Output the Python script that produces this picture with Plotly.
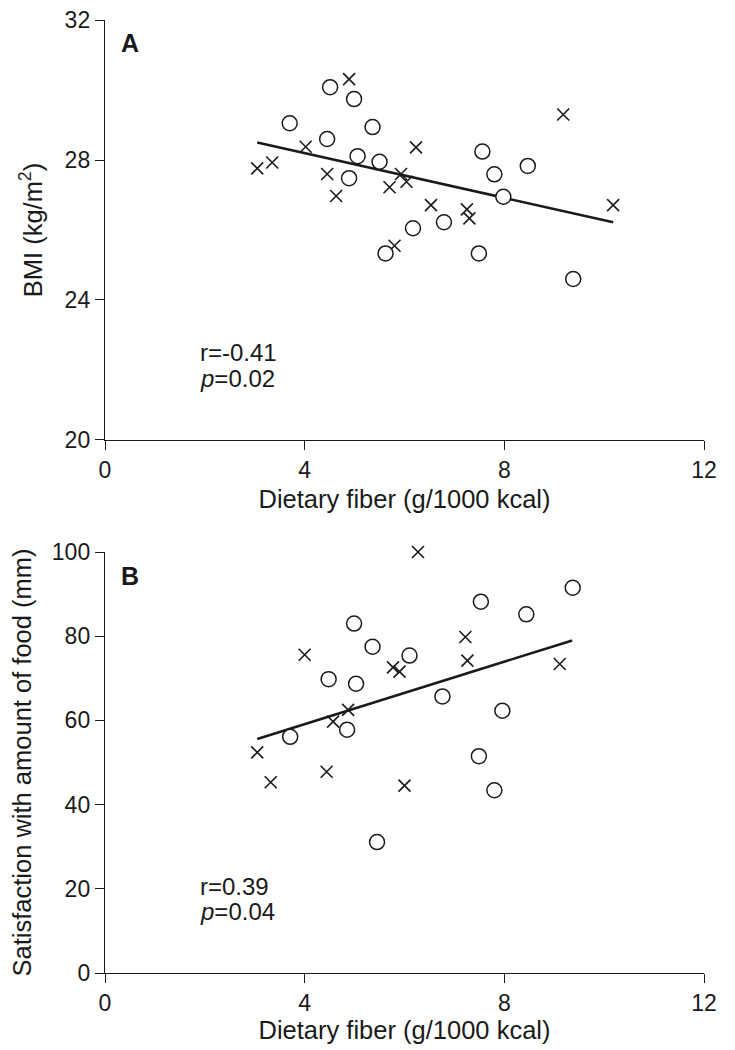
import plotly.graph_objects as go

# ---------------- Data ----------------
# Panel A: BMI vs dietary fiber
a_cross_x = [3.05, 3.35, 4.02, 4.45, 4.63, 4.89, 5.70, 5.93, 6.04, 6.23, 5.80, 6.53, 7.25, 7.30, 9.18, 10.18]
a_cross_y = [27.76, 27.93, 28.38, 27.60, 26.97, 30.31, 27.22, 27.60, 27.38, 28.36, 25.55, 26.71, 26.59, 26.33, 29.30, 26.71]
a_circle_x = [4.51, 4.99, 3.70, 5.36, 4.45, 5.06, 5.50, 4.89, 7.56, 7.80, 8.47, 7.98, 6.79, 6.17, 5.62, 7.49, 9.38]
a_circle_y = [30.08, 29.74, 29.05, 28.94, 28.60, 28.11, 27.95, 27.48, 28.24, 27.59, 27.83, 26.95, 26.22, 26.05, 25.33, 25.33, 24.60]
a_fit_x = [3.05, 10.18]
a_fit_y = [28.50, 26.22]

# Panel B: Satisfaction with amount of food vs dietary fiber
b_cross_x = [6.27, 7.22, 7.26, 9.11, 4.00, 5.77, 5.90, 4.87, 4.57, 3.05, 3.32, 4.44, 6.00]
b_cross_y = [100.0, 79.8, 74.2, 73.4, 75.6, 72.6, 71.6, 62.5, 59.7, 52.4, 45.3, 47.8, 44.5]
b_circle_x = [9.37, 7.53, 8.44, 4.99, 5.36, 6.10, 4.48, 5.03, 6.76, 7.96, 3.71, 4.85, 7.49, 7.80, 5.45]
b_circle_y = [91.5, 88.2, 85.2, 83.0, 77.5, 75.4, 69.8, 68.7, 65.7, 62.3, 56.1, 57.8, 51.5, 43.4, 31.1]
b_fit_x = [3.05, 9.36]
b_fit_y = [55.6, 79.0]

x_ticks = [0, 4, 8, 12]
a_y_ticks = [20, 24, 28, 32]
b_y_ticks = [0, 20, 40, 60, 80, 100]

x_title = "Dietary fiber (g/1000 kcal)"
a_y_title = "BMI (kg/m<sup>2</sup>)"
b_y_title = "Satisfaction with amount of food (mm)"

# ---------------- Style ----------------
FONT = "Liberation Sans, Arial, Helvetica, sans-serif"
INK = "#1a1a1a"
TICK_SIZE = 23
NOTE_SIZE = 24
TITLE_SIZE = 25.5

fig = go.Figure()

def add_panel(xref, yref, fx, fy, cx, cy, ox, oy):
    fig.add_trace(go.Scatter(x=fx, y=fy, mode="lines", xaxis=xref, yaxis=yref,
                             line=dict(color=INK, width=2.6), showlegend=False, hoverinfo="skip"))
    fig.add_trace(go.Scatter(x=cx, y=cy, mode="markers", xaxis=xref, yaxis=yref, cliponaxis=False,
                             marker=dict(symbol="x-thin-open", size=12, color=INK,
                                         line=dict(color=INK, width=1.6)),
                             showlegend=False))
    fig.add_trace(go.Scatter(x=ox, y=oy, mode="markers", xaxis=xref, yaxis=yref, cliponaxis=False,
                             marker=dict(symbol="circle", size=15, color="white",
                                         line=dict(color=INK, width=1.5)),
                             showlegend=False))

add_panel("x", "y", a_fit_x, a_fit_y, a_cross_x, a_cross_y, a_circle_x, a_circle_y)
add_panel("x2", "y2", b_fit_x, b_fit_y, b_cross_x, b_cross_y, b_circle_x, b_circle_y)

axis_common = dict(showline=True, linecolor=INK, linewidth=1.4, ticks="outside",
                   ticklen=9, tickwidth=1.4, tickcolor=INK, showgrid=False, zeroline=False,
                   automargin=False, ticklabeloverflow="allow",
                   tickfont=dict(family=FONT, size=TICK_SIZE, color=INK))

title_font = dict(family=FONT, size=TITLE_SIZE, color=INK)

fig.update_layout(
    width=735, height=1050,
    margin=dict(l=97, r=39, t=12, b=85),
    paper_bgcolor="white", plot_bgcolor="white",
    font=dict(family=FONT, color=INK),
    xaxis=dict(domain=[0, 1], anchor="y", range=[0, 12], tickvals=x_ticks,
               title=dict(text=x_title, font=title_font, standoff=8),
               **axis_common),
    yaxis=dict(domain=[0.5593, 1.0], anchor="x", range=[20, 32], tickvals=a_y_ticks,
               title=dict(text=a_y_title, font=title_font, standoff=14),
               **axis_common),
    xaxis2=dict(domain=[0, 1], anchor="y2", range=[0, 12], tickvals=x_ticks,
                title=dict(text=x_title, font=title_font, standoff=2),
                **axis_common),
    yaxis2=dict(domain=[0, 0.44176], anchor="x2", range=[0, 100], tickvals=b_y_ticks,
                title=dict(text=b_y_title, font=title_font, standoff=13),
                **axis_common),
)

def note(xr, yr, x, y, text, size=NOTE_SIZE, bold=False):
    fig.add_annotation(xref=xr, yref=yr, x=x, y=y, text=("<b>%s</b>" % text) if bold else text,
                       showarrow=False, xanchor="left", yanchor="middle",
                       font=dict(family=FONT, size=size, color=INK))

note("x", "y", 0.29, 31.33, "A", size=25, bold=True)
note("x", "y", 1.86, 22.5, "r=-0.41")
note("x", "y", 1.86, 21.76, "<i>p</i>=0.02")
note("x2", "y2", 0.29, 94.2, "B", size=25, bold=True)
note("x2", "y2", 1.86, 20.46, "r=0.39")
note("x2", "y2", 1.86, 14.5, "<i>p</i>=0.04")

fig.write_html("out.html")
